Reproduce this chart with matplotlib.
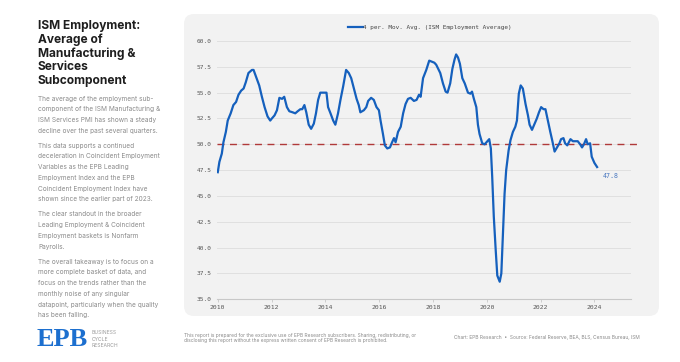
import matplotlib.pyplot as plt
from matplotlib.patches import FancyBboxPatch

# ISM employment average, 4 period moving average (decimal years)
years = [
    2010.00, 2010.06, 2010.15, 2010.21, 2010.30, 2010.37, 2010.48, 2010.58, 2010.68, 2010.77,
    2010.87, 2010.96, 2011.04, 2011.14, 2011.27, 2011.33, 2011.43, 2011.54, 2011.64, 2011.74,
    2011.85, 2011.95, 2012.01, 2012.11, 2012.20, 2012.29, 2012.39, 2012.47, 2012.57, 2012.66,
    2012.78, 2012.88, 2012.97, 2013.07, 2013.14, 2013.22, 2013.29, 2013.38, 2013.47, 2013.57,
    2013.65, 2013.73, 2013.81, 2013.94, 2014.04, 2014.10, 2014.19, 2014.29, 2014.37, 2014.47,
    2014.56, 2014.66, 2014.77, 2014.87, 2014.96, 2015.06, 2015.16, 2015.24, 2015.30, 2015.43,
    2015.52, 2015.59, 2015.70, 2015.80, 2015.90, 2015.99, 2016.05, 2016.14, 2016.21, 2016.30,
    2016.40, 2016.48, 2016.55, 2016.61, 2016.70, 2016.80, 2016.89, 2016.98, 2017.07, 2017.17,
    2017.29, 2017.39, 2017.48, 2017.54, 2017.63, 2017.75, 2017.86, 2017.95, 2018.05, 2018.12,
    2018.27, 2018.37, 2018.47, 2018.54, 2018.64, 2018.72, 2018.80, 2018.86, 2018.93, 2019.00,
    2019.09, 2019.18, 2019.30, 2019.39, 2019.45, 2019.52, 2019.61, 2019.67, 2019.73, 2019.83,
    2019.92, 2020.02, 2020.09, 2020.15, 2020.20, 2020.26, 2020.33, 2020.39, 2020.48, 2020.54,
    2020.60, 2020.66, 2020.72, 2020.81, 2020.88, 2020.97, 2021.06, 2021.12, 2021.19, 2021.26,
    2021.34, 2021.44, 2021.53, 2021.59, 2021.68, 2021.78, 2021.86, 2021.94, 2022.02, 2022.11,
    2022.18, 2022.27, 2022.36, 2022.43, 2022.52, 2022.61, 2022.70, 2022.76, 2022.85, 2022.91,
    2022.99, 2023.05, 2023.11, 2023.20, 2023.28, 2023.38, 2023.47, 2023.54, 2023.61, 2023.69,
    2023.75, 2023.84, 2023.90, 2024.00, 2024.10,
]
ism_emp = [
    47.3, 48.3, 49.1, 50.2, 51.2, 52.3, 53.0, 53.8, 54.1, 54.8,
    55.2, 55.4, 56.0, 56.9, 57.2, 57.2, 56.5, 55.7, 54.6, 53.6,
    52.7, 52.3, 52.5, 52.8, 53.3, 54.5, 54.4, 54.6, 53.6, 53.2,
    53.1, 53.0, 53.2, 53.4, 53.4, 53.8, 53.1, 51.9, 51.5, 52.0,
    53.0, 54.3, 55.0, 55.0, 55.0, 53.6, 53.0, 52.3, 51.9, 53.0,
    54.3, 55.6, 57.2, 56.9, 56.4, 55.4, 54.4, 53.8, 53.1, 53.3,
    53.6, 54.2, 54.5, 54.3, 53.6, 53.3, 52.3, 51.0, 49.9, 49.6,
    49.7, 50.2, 50.6, 50.2, 51.2, 51.7, 53.0, 53.9, 54.4, 54.5,
    54.2, 54.3, 54.8, 54.6, 56.4, 57.2, 58.1, 58.0, 57.9, 57.7,
    56.9, 55.9, 55.1, 55.0, 55.9, 57.3, 58.2, 58.7, 58.4, 57.8,
    56.4, 55.9, 55.0, 54.9, 55.1, 54.4, 53.6, 51.9, 51.0, 50.1,
    50.0, 50.3, 50.5, 49.6, 46.9, 43.0, 39.8, 37.3, 36.7, 37.5,
    41.4, 45.2, 47.5, 49.4, 50.4, 51.2, 51.7, 52.3, 54.9, 55.7,
    55.4, 53.9, 52.8, 51.9, 51.4, 52.0, 52.5, 53.1, 53.6, 53.4,
    53.4, 52.3, 51.2, 50.4, 49.3, 49.7, 50.1, 50.5, 50.6, 50.1,
    49.9, 50.2, 50.5, 50.3, 50.3, 50.3, 50.0, 49.7, 50.0, 50.5,
    50.0, 50.1, 48.8, 48.2, 47.8,
]
threshold = 50.0
y_ticks = [35.0, 37.5, 40.0, 42.5, 45.0, 47.5, 50.0, 52.5, 55.0, 57.5, 60.0]
x_ticks = [2010, 2012, 2014, 2016, 2018, 2020, 2022, 2024]

title_lines = ["ISM Employment:", "Average of", "Manufacturing &", "Services", "Subcomponent"]
paragraphs = [
    ["The average of the employment sub-", "component of the ISM Manufacturing &",
     "ISM Services PMI has shown a steady", "decline over the past several quarters."],
    ["This data supports a continued", "deceleration in Coincident Employment",
     "Variables as the EPB Leading", "Employment Index and the EPB",
     "Coincident Employment Index have", "shown since the earlier part of 2023."],
    ["The clear standout in the broader", "Leading Employment & Coincident",
     "Employment baskets is Nonfarm", "Payrolls."],
    ["The overall takeaway is to focus on a", "more complete basket of data, and",
     "focus on the trends rather than the", "monthly noise of any singular",
     "datapoint, particularly when the quality", "has been falling."],
]

W, H = 680, 362
fig = plt.figure(figsize=(6.8, 3.62), dpi=100)
fig.patch.set_facecolor('white')

def fx(px):
    return px / W

def fy(py):
    return 1 - py / H

# grey rounded panel behind the chart
panel = FancyBboxPatch((1.84, 0.46), 4.75, 3.02, boxstyle='round,pad=0,rounding_size=0.1',
                       transform=fig.dpi_scale_trans, facecolor='#f2f2f2', edgecolor='none', zorder=-10)
fig.patches.append(panel)

ax = fig.add_axes([fx(216.7), fy(299.3), fx(631) - fx(216.7), fy(41) - fy(299.3)])
ax.set_facecolor('none')
mono = 'DejaVu Sans Mono'

for v in y_ticks:
    if v != y_ticks[0]:
        ax.axhline(v, color='#e0e0e0', lw=0.7, zorder=1)
ax.axhline(threshold, xmin=0, xmax=1.02, color='#b03a3a', lw=1.0, ls=(0, (5, 4)), zorder=2, clip_on=False)
line, = ax.plot(years, ism_emp, color='#1560bd', lw=1.6, zorder=3,
                label='4 per. Mov. Avg. (ISM Employment Average)')
ax.text(years[-1] + 0.22, ism_emp[-1] - 0.9, f'{ism_emp[-1]:.1f}', color='#4a78c0',
        fontsize=4.8, family=mono, va='center', ha='left')

ax.set_xlim(2009.96, 2025.36)
ax.set_ylim(35, 60)
ax.set_yticks(y_ticks)
ax.set_yticklabels([f'{v:.1f}' for v in y_ticks])
ax.set_xticks(x_ticks)
ax.set_xticklabels([str(v) for v in x_ticks])
for s in ['top', 'right', 'left']:
    ax.spines[s].set_visible(False)
ax.spines['bottom'].set_color('#c8c8c8')
ax.spines['bottom'].set_linewidth(0.8)
ax.tick_params(axis='y', length=0, pad=3.4, labelsize=4.4, labelcolor='#555555')
ax.tick_params(axis='x', length=2, width=0.6, color='#c8c8c8', pad=2, labelsize=4.6, labelcolor='#555555')
for lab in ax.get_xticklabels() + ax.get_yticklabels():
    lab.set_family(mono)

leg = ax.legend(handles=[line], loc='lower center', bbox_to_anchor=(0.515, 1.02), frameon=False,
                prop={'family': mono, 'size': 4.3}, handlelength=2.4, handletextpad=0.1)
for t in leg.get_texts():
    t.set_color('#444444')

# left text column
sans = 'Inter'
y = 26.5
for ln in title_lines:
    fig.text(fx(38), fy(y), ln, fontsize=8.6, fontweight='bold', family=sans, color='#1e1e1e', va='center')
    y += 13.6
y = 98.5
for para in paragraphs:
    for ln in para:
        fig.text(fx(38), fy(y), ln, fontsize=4.7, family=sans, color='#8a8a8a', va='center')
        y += 10.7
    y += 4.5

# logo
fig.text(fx(37), fy(339), 'EPB', fontsize=19, fontweight='bold', family='Liberation Serif',
         color='#1c6fcf', va='center')
for i, ln in enumerate(['BUSINESS', 'CYCLE', 'RESEARCH']):
    fig.text(fx(92), fy(333 + 6.2 * i), ln, fontsize=3.6, family=sans, color='#9a9a9a', va='center')

# footer
fig.text(fx(184), fy(335.5), 'This report is prepared for the exclusive use of EPB Research subscribers. Sharing, redistributing, or',
         fontsize=3.5, family=sans, color='#8a8a8a', va='center')
fig.text(fx(184), fy(340.5), 'disclosing this report without the express written consent of EPB Research is prohibited.',
         fontsize=3.5, family=sans, color='#8a8a8a', va='center')
fig.text(fx(454), fy(338), 'Chart: EPB Research  \u2022  Source: Federal Reserve, BEA, BLS, Census Bureau, ISM',
         fontsize=3.5, family=sans, color='#8a8a8a', va='center')

fig.savefig('out.png', dpi=100)
